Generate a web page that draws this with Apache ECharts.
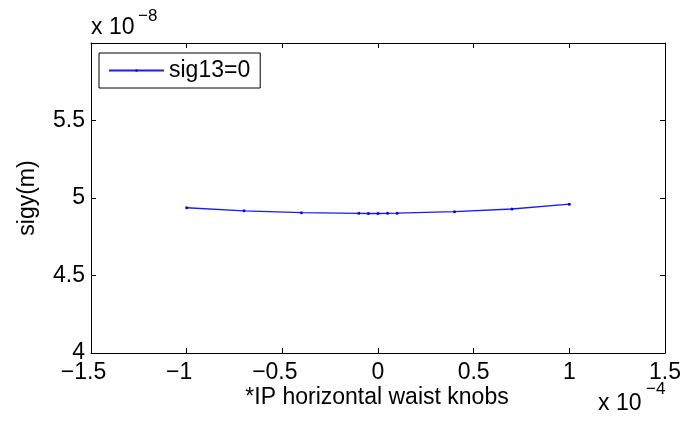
<!DOCTYPE html>
<html>
<head>
<meta charset="utf-8">
<script src="https://cdn.jsdelivr.net/npm/echarts@6/dist/echarts.min.js"></script>
<style>
  html, body { margin: 0; padding: 0; background: #fff; }
  #main { width: 688px; height: 426px; }
</style>
</head>
<body>
<div id="main"></div>
<script>
// knob setting (x 1e-4) and vertical beam size (x 1e-8 m)
var knobX = [-1, -0.7, -0.4, -0.1, -0.05, 0, 0.05, 0.1, 0.4, 0.7, 1];
var sigY = [4.937, 4.917, 4.905, 4.901, 4.900, 4.900, 4.901, 4.902, 4.912, 4.929, 4.960];
var xTicks = [-1.5, -1, -0.5, 0, 0.5, 1, 1.5];
var yTicks = [4, 4.5, 5, 5.5];
var seriesName = 'sig13=0';

var FONT = '"Liberation Sans", Arial, Helvetica, sans-serif';
var FS = 23;

var points = [];
for (var i = 0; i < knobX.length; i++) {
  points.push([knobX[i], sigY[i]]);
}

function fmtNum(v) {
  // matlab style minus sign
  return v < 0 ? '\u2212' + String(-v) : String(v);
}

var myChart = echarts.init(document.getElementById('main'), null, { renderer: 'canvas' });

var axisText = { color: '#000', fontFamily: FONT, fontSize: FS };

myChart.setOption({
  animation: false,
  backgroundColor: '#fff',
  grid: {
    left: 91, right: 23, top: 43, bottom: 73,
    containLabel: false,
    outerBoundsMode: 'none'
  },
  legend: {
    data: [seriesName],
    left: 99, top: 53,
    orient: 'vertical',
    backgroundColor: '#fff',
    borderColor: '#000',
    borderWidth: 1,
    borderRadius: 0,
    padding: [6, 10, 6, 9],
    itemWidth: 55,
    itemHeight: 3,
    itemGap: 0,
    textStyle: { color: '#000', fontFamily: FONT, fontSize: FS, padding: [0, 0, 0, 0] }
  },
  xAxis: [{
    type: 'value',
    min: -1.5, max: 1.5, interval: 0.5,
    axisLine: { show: true, onZero: false, lineStyle: { color: '#000', width: 1 } },
    axisTick: { show: true, inside: true, length: 5, lineStyle: { color: '#000' } },
    splitLine: { show: false },
    axisLabel: Object.assign({
      margin: 8,
      formatter: function (v) {
        if (xTicks.indexOf(v) < 0) return '';
        return v < 0 ? '{neg|' + fmtNum(v) + '}' : fmtNum(v);
      },
      rich: {
        neg: { color: '#000', fontFamily: FONT, fontSize: FS, padding: [0, 15, 0, 0] }
      }
    }, axisText)
  }, {
    type: 'value',
    position: 'top',
    min: -1.5, max: 1.5, interval: 0.5,
    axisLine: { show: true, onZero: false, lineStyle: { color: '#000', width: 1 } },
    axisTick: { show: true, inside: true, length: 5, lineStyle: { color: '#000' } },
    splitLine: { show: false },
    axisLabel: { show: false }
  }],
  yAxis: [{
    type: 'value',
    min: 4, max: 6, interval: 0.5,
    axisLine: { show: true, onZero: false, lineStyle: { color: '#000', width: 1 } },
    axisTick: { show: true, inside: true, length: 5, lineStyle: { color: '#000' } },
    splitLine: { show: false },
    axisLabel: Object.assign({
      margin: 6,
      formatter: function (v) {
        return yTicks.indexOf(v) >= 0 ? fmtNum(v) : '';
      }
    }, axisText)
  }, {
    type: 'value',
    position: 'right',
    min: 4, max: 6, interval: 0.5,
    axisLine: { show: true, onZero: false, lineStyle: { color: '#000', width: 1 } },
    axisTick: { show: true, inside: true, length: 5, lineStyle: { color: '#000' } },
    splitLine: { show: false },
    axisLabel: { show: false }
  }],
  series: [{
    name: seriesName,
    type: 'line',
    xAxisIndex: 0,
    yAxisIndex: 0,
    data: points,
    symbol: 'circle',
    symbolSize: 3,
    showSymbol: true,
    lineStyle: { color: '#1a1aff', width: 1.3 },
    itemStyle: { color: '#0000ff' }
  }],
  graphic: [
    // y label
    { type: 'text', x: 28, y: 198, rotation: Math.PI / 2,
      style: { text: 'sigy(m)', font: FS + 'px ' + FONT, fill: '#000', align: 'center', verticalAlign: 'middle' } },
    // x label
    { type: 'text', x: 377, y: 398,
      style: { text: '*IP horizontal waist knobs', font: FS + 'px ' + FONT, fill: '#000', align: 'center', verticalAlign: 'middle' } },
    // y exponent
    { type: 'text', x: 91, y: 28,
      style: { text: 'x 10', font: FS + 'px ' + FONT, fill: '#000', align: 'left', verticalAlign: 'middle' } },
    { type: 'text', x: 138, y: 16,
      style: { text: '\u22128', font: '17px ' + FONT, fill: '#000', align: 'left', verticalAlign: 'middle' } },
    // x exponent
    { type: 'text', x: 598, y: 404,
      style: { text: 'x 10', font: FS + 'px ' + FONT, fill: '#000', align: 'left', verticalAlign: 'middle' } },
    { type: 'text', x: 646, y: 389,
      style: { text: '\u22124', font: '17px ' + FONT, fill: '#000', align: 'left', verticalAlign: 'middle' } }
  ]
});
</script>
</body>
</html>
